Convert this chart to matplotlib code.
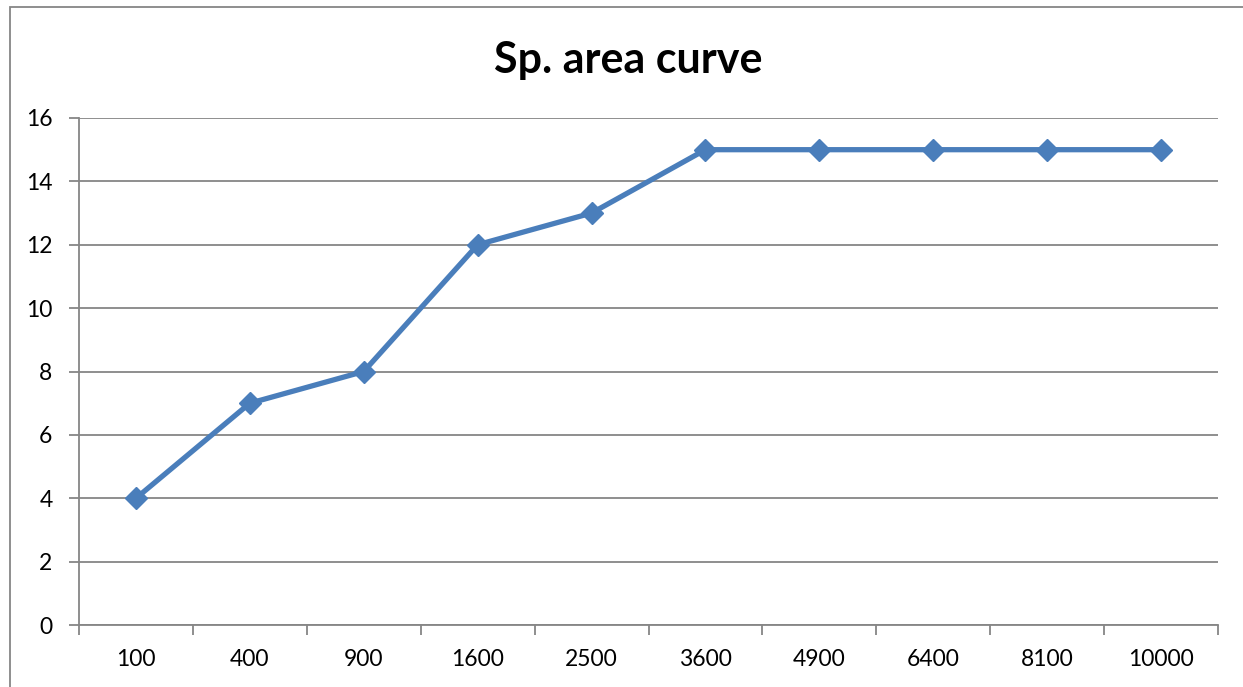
import numpy as np
import matplotlib.pyplot as plt
from matplotlib.patches import Rectangle

categorias = ["100", "400", "900", "1600", "2500", "3600", "4900", "6400", "8100", "10000"]
especies = [4, 7, 8, 12, 13, 15, 15, 15, 15, 15]

plt.rcParams['font.family'] = ['Lato', 'DejaVu Sans']

W, H = 1243, 687
fig = plt.figure(figsize=(W / 100, H / 100), dpi=100)
ax = fig.add_axes([79 / W, 1 - 625 / H, (1218 - 79) / W, (625 - 118) / H])

gris = "#868686"
x = np.arange(len(categorias))

ax.set_ylim(0, 16)
ax.set_yticks(range(0, 17, 2))
ax.yaxis.grid(True, color=gris, linewidth=1.3)
ax.set_axisbelow(True)

ax.plot(x, especies, color="#4A7EBB", linewidth=3.8, marker="D",
        markersize=11, markeredgecolor="#4A7EBB", zorder=3, clip_on=False)

ax.set_xlim(-0.5, len(categorias) - 0.5)
ax.set_xticks(x)
ax.set_xticklabels(categorias)
ax.set_xticks(np.arange(-0.5, len(categorias)), minor=True)
ax.tick_params(axis="x", which="major", length=0, pad=17, labelsize=16.5)
ax.tick_params(axis="x", which="minor", length=7, width=1.3, color=gris, direction="out")
ax.tick_params(axis="y", length=7, width=1.3, color=gris, pad=12, labelsize=16.5)

for lado in ["top", "right"]:
    ax.spines[lado].set_visible(False)
ax.spines["left"].set_color(gris)
ax.spines["left"].set_linewidth(1.3)
ax.spines["bottom"].set_color(gris)
ax.spines["bottom"].set_linewidth(1.3)

fig.text(628 / W, 1 - 60 / H, "Sp. area curve", ha="center", va="center",
         fontsize=31, fontweight="bold")

# marco del area del grafico
fig.add_artist(Rectangle((10 / W, -0.1), 1.2, (H - 7) / H + 0.1,
                         transform=fig.transFigure, fill=False,
                         edgecolor=gris, linewidth=1.3))

fig.savefig("out.png", dpi=100)
